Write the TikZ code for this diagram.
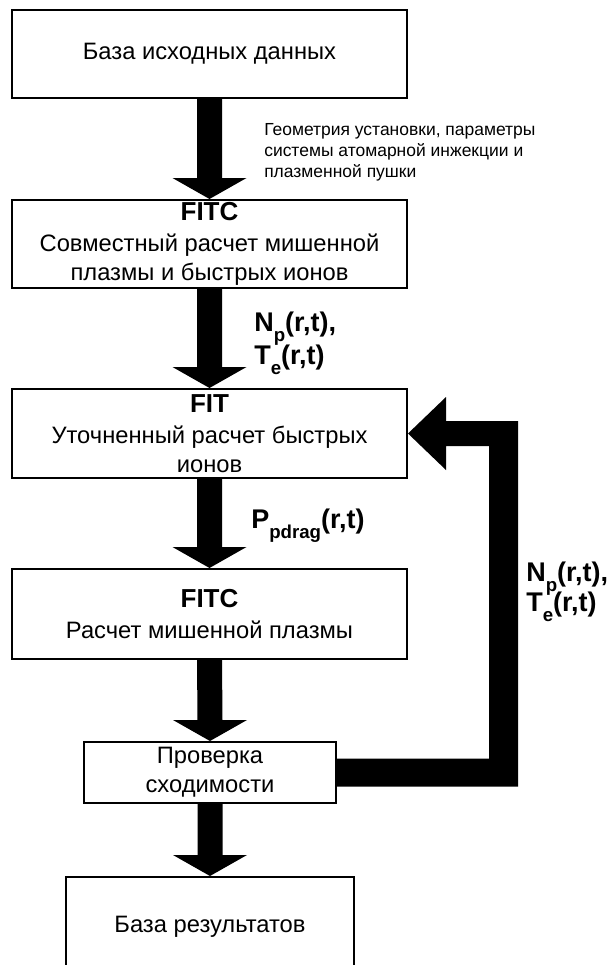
\documentclass[tikz,border=0pt]{standalone}
\usepackage{fontspec}
\setmainfont{Liberation Sans}
\usetikzlibrary{calc}
\setlength{\lineskiplimit}{-100pt}
\setlength{\lineskip}{0pt}
\newcommand\pxu{0.75pt}
\newcommand\boxfont{\fontsize{17.8pt}{21.75pt}\selectfont}
\newcommand\hdfont{\fontsize{19.5pt}{23.25pt}\selectfont\bfseries}
\newcommand\labfont{\fontsize{20.25pt}{24.75pt}\selectfont\bfseries}
\newcommand\smallfont{\fontsize{13.1pt}{15.75pt}\selectfont}
\newcommand\sbs[1]{\raisebox{-7.2pt}{\fontsize{14pt}{14pt}\selectfont #1}}
\newcommand\blockarrow[2]{%
  \fill[black] ($(#1.south)+(-12.5,0)$) -- ($(#2.north)+(-12.5,-21)$) --
    ($(#2.north)+(-37,-21)$) -- (#2.north) -- ($(#2.north)+(37,-21)$) --
    ($(#2.north)+(12.5,-21)$) -- ($(#1.south)+(12.5,0)$) -- cycle;}
\tikzset{
  box/.style={draw=black, line width=1.5pt, fill=white, inner sep=0pt,
    align=center, font=\boxfont},
  biglab/.style={inner sep=0pt, align=left, font=\labfont, anchor=north west},
  smalllab/.style={inner sep=0pt, align=left, font=\smallfont, anchor=north west},
}
\begin{document}
\begin{tikzpicture}[x=0.75pt, y=-0.75pt]
\path[use as bounding box] (0,0) rectangle (611,965);
\fill[white] (0,0) rectangle (611,965);
\clip (0,0) rectangle (611,965);

\node[box, minimum width={395*\pxu}, minimum height={88*\pxu}] (b1) at (209.5,54)
  {База исходных данных};
\node[box, minimum width={395*\pxu}, minimum height={88*\pxu}] (b2) at (209.5,244)
  {{\hdfont FITC}\\[1.5pt]Совместный расчет мишенной\\плазмы и быстрых ионов};
\node[box, minimum width={395*\pxu}, minimum height={89*\pxu}] (b3) at (209.5,433.5)
  {{\hdfont FIT}\\[1.5pt]Уточненный расчет быстрых\\ионов};
\node[box, minimum width={395*\pxu}, minimum height={90*\pxu}] (b4) at (209.5,614)
  {{\hdfont FITC}\\[1.5pt]Расчет мишенной плазмы};
\node[box, minimum width={252*\pxu}, minimum height={61*\pxu}] (b5) at (210,772.5)
  {Проверка\\сходимости};
\node[box, minimum width={288*\pxu}, minimum height={100*\pxu}] (b6) at (210,927)
  {База результатов};

\blockarrow{b1}{b2}
\blockarrow{b2}{b3}
\blockarrow{b3}{b4}
\blockarrow{b4}{b5}
\blockarrow{b5}{b6}

% feedback arrow
\fill[black] ($(b5.east)+(0,-14)$) -- (489,758.5) -- (489,446) -- (446,446) --
  (446,470) -- (b3.east) -- (446,397) -- (446,421) -- (518,421) --
  (518,786.5) -- ($(b5.east)+(0,14)$) -- cycle;

\node[smalllab] (l1) at (264,123)
  {Геометрия установки, параметры\\системы атомарной инжекции и\\плазменной пушки};
\node[biglab] (l2) at (254,312)
  {N\sbs{p}(r,t),\\T\sbs{e}(r,t)};
\node[biglab] (l3) at (251,509)
  {P\sbs{pdrag}(r,t)};
\node[biglab, font=\fontsize{20.25pt}{22.5pt}\selectfont\bfseries] (l4) at (526,562)
  {N\sbs{p}(r,t),\\T\sbs{e}(r,t)};
\end{tikzpicture}
\end{document}
